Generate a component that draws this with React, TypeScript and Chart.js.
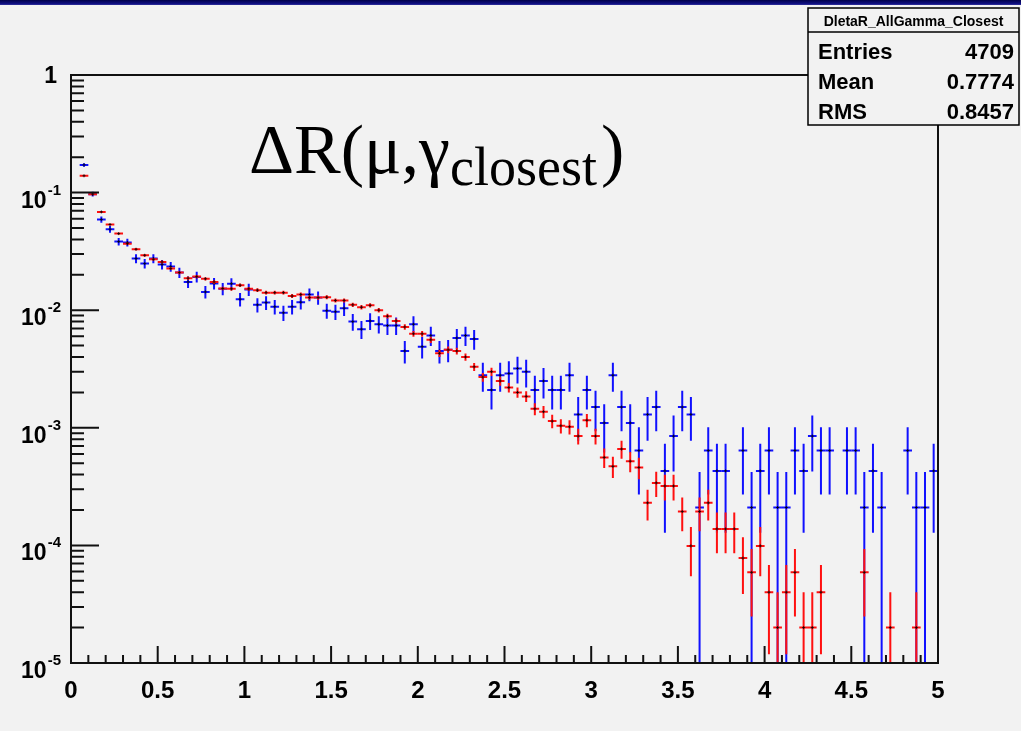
import React, { useEffect, useRef } from "react";
import { Chart, registerables } from "chart.js";

Chart.register(...registerables);

// ---------- data ----------
const X_MIN = 0;
const X_MAX = 5;
const BIN_WIDTH = 0.05;
const BIN_CENTERS = Array.from({ length: 100 }, (_, i) => +(i * BIN_WIDTH + BIN_WIDTH / 2).toFixed(3));

const X_TICKS = [0, 0.5, 1, 1.5, 2, 2.5, 3, 3.5, 4, 4.5, 5];
const Y_DECADES = [0, -1, -2, -3, -4, -5];

// normalised histogram contents (blue: all gammas, 4709 entries)
const BLUE_VALUES: (number | null)[] = [
  null, 0.172, 0.097, 0.059, 0.0488, 0.0383, 0.0376, 0.0275, 0.0249, 0.0275,
  0.0245, 0.0235, 0.0209, 0.0174, 0.0192, 0.0143, 0.0169, 0.0152, 0.0168, 0.0124,
  0.015, 0.0111, 0.0116, 0.0107, 0.0095, 0.0107, 0.0117, 0.0136, 0.0128, 0.0099,
  0.0097, 0.0104, 0.008, 0.0069, 0.0081, 0.0076, 0.0074, 0.0074, 0.0045, 0.0076,
  0.0049, 0.0061, 0.0045, 0.0046, 0.0058, 0.0061, 0.0057, 0.0028, 0.0021, 0.0028,
  0.0029, 0.0032, 0.003, 0.0021, 0.0025, 0.0021, 0.0021, 0.0028, 0.0013, 0.0021,
  0.0015, 0.0011, 0.0028, 0.0015, 0.0011, 0.00064, 0.0013, 0.0015, 0.00043, 0.00085,
  0.0015, 0.0013, 0.00021, 0.00064, 0.00043, 0.00043, null, 0.00064, 0.00021, 0.00043,
  0.00064, 0.00021, 0.00021, 0.00064, 0.00043, 0.00085, 0.00064, 0.00064, null, 0.00064,
  0.00064, 0.00021, 0.00043, 0.00021, null, null, 0.00064, 0.00021, 0.00021, 0.00043,
];

// red overlay (higher statistics sample)
const RED_VALUES: (number | null)[] = [
  null, 0.139, 0.097, 0.0685, 0.0535, 0.0448, 0.0368, 0.033, 0.0293, 0.0271,
  0.0257, 0.0226, 0.0209, 0.0187, 0.0193, 0.0185, 0.0174, 0.0153, 0.0152, 0.0163,
  0.0152, 0.0148, 0.0141, 0.0141, 0.0141, 0.0132, 0.0136, 0.0128, 0.0128, 0.0129,
  0.0121, 0.0121, 0.0111, 0.0106, 0.011, 0.01, 0.0089, 0.0081, 0.0072, 0.0063,
  0.0063, 0.0056, 0.0043, 0.0046, 0.0045, 0.004, 0.0033, 0.0027, 0.003, 0.0025,
  0.0022, 0.002, 0.00185, 0.00145, 0.00137, 0.00114, 0.00104, 0.00102, 0.00085, 0.00116,
  0.00085, 0.00056, 0.00047, 0.00066, 0.00052, 0.00046, 0.00023, 0.00034, 0.00032, 0.00032,
  0.000194, 0.000099, 0.000194, 0.00023, 0.000138, 0.000138, 0.000138, 0.000078, 0.000059, 0.000099,
  0.00004, 0.00002, 0.00004, 0.000059, 0.00002, 0.00002, 0.00004, null, null, null,
  null, 0.000059, null, null, 0.00002, null, null, 0.00002, null, null,
];

const BLUE_ENTRIES = 4709;
const RED_ENTRIES = 50500;

const TITLE_MAIN = "ΔR(μ,γ";
const TITLE_SUB = "closest";
const TITLE_END = ")";

const STATS_NAME = "DletaR_AllGamma_Closest";
const STATS_LABELS = ["Entries", "Mean", "RMS"];
const STATS_VALUES = ["4709", "0.7774", "0.8457"];

// ---------- drawing helpers ----------
const SANS = '"Liberation Sans", Arial, Helvetica, sans-serif';
const SERIF = '"Liberation Serif", "Times New Roman", serif';

const rootPlugin = {
  id: "rootStyle",
  beforeDraw(chart: any) {
    const ctx = chart.ctx;
    ctx.save();
    ctx.fillStyle = "#f2f2f2";
    ctx.fillRect(0, 0, chart.width, chart.height);
    const g = ctx.createLinearGradient(0, 0, 0, 6);
    g.addColorStop(0, "#00004a");
    g.addColorStop(0.7, "#12128a");
    g.addColorStop(1, "#8a8ac0");
    ctx.fillStyle = g;
    ctx.fillRect(0, 0, chart.width, 5);
    ctx.restore();
  },
  beforeDatasetDraw(chart: any, args: any) {
    const ds = chart.data.datasets[args.index];
    const xs = chart.scales.x;
    const ys = chart.scales.y;
    const a = chart.chartArea;
    const ctx = chart.ctx;
    ctx.save();
    ctx.beginPath();
    ctx.rect(a.left, a.top, a.right - a.left, a.bottom - a.top);
    ctx.clip();
    ctx.strokeStyle = ds.barColor;
    ctx.lineWidth = 2;
    ctx.lineCap = "butt";
    ds.data.forEach((p: any) => {
      if (p.y == null) return;
      const err = Math.sqrt(p.y / ds.entries);
      const px = xs.getPixelForValue(p.x);
      const x0 = xs.getPixelForValue(p.x - BIN_WIDTH / 2);
      const x1 = xs.getPixelForValue(p.x + BIN_WIDTH / 2);
      const py = ys.getPixelForValue(p.y);
      const lo = p.y - err;
      const pyLo = lo > 0 ? ys.getPixelForValue(lo) : a.bottom;
      const pyHi = ys.getPixelForValue(p.y + err);
      ctx.beginPath();
      ctx.moveTo(x0, py);
      ctx.lineTo(x1, py);
      ctx.moveTo(px, Math.min(pyLo, a.bottom + 2));
      ctx.lineTo(px, pyHi);
      ctx.stroke();
    });
    ctx.restore();
  },
  afterDatasetsDraw(chart: any) {
    const ctx = chart.ctx;
    const xs = chart.scales.x;
    const ys = chart.scales.y;
    const a = chart.chartArea;
    ctx.save();
    // frame
    ctx.strokeStyle = "#111";
    ctx.lineWidth = 2;
    ctx.strokeRect(a.left, a.top, a.right - a.left, a.bottom - a.top);

    // y ticks (inside)
    ctx.lineWidth = 2;
    ctx.beginPath();
    Y_DECADES.forEach((k) => {
      const y = ys.getPixelForValue(Math.pow(10, k));
      ctx.moveTo(a.left, y);
      ctx.lineTo(a.left + 28, y);
      if (k < 0) {
        for (let m = 2; m <= 9; m++) {
          const ym = ys.getPixelForValue(m * Math.pow(10, k));
          ctx.moveTo(a.left, ym);
          ctx.lineTo(a.left + 13, ym);
        }
      }
    });
    // x ticks (inside)
    for (let i = 0; i <= 50; i++) {
      const v = i / 10;
      const x = xs.getPixelForValue(v);
      const len = i % 5 === 0 ? 17 : 8;
      ctx.moveTo(x, a.bottom);
      ctx.lineTo(x, a.bottom - len);
    }
    ctx.stroke();

    // y labels
    ctx.fillStyle = "#000";
    ctx.textBaseline = "alphabetic";
    ctx.textAlign = "right";
    const right = 61;
    Y_DECADES.forEach((k) => {
      const y = ys.getPixelForValue(Math.pow(10, k));
      if (k === 0) {
        ctx.font = `bold 23px ${SANS}`;
        ctx.fillText("1", 57, y + 8);
      } else {
        const ex = `${k}`;
        ctx.font = `bold 15px ${SANS}`;
        const w = ctx.measureText(ex).width;
        ctx.fillText(ex, right, y + 2);
        ctx.font = `bold 23px ${SANS}`;
        ctx.fillText("10", right - w - 1, y + 15);
      }
    });

    // title
    ctx.textAlign = "left";
    let tx = 249;
    ctx.font = `70px ${SERIF}`;
    ctx.fillText(TITLE_MAIN, tx, 173);
    tx += ctx.measureText(TITLE_MAIN).width;
    ctx.font = `54px ${SERIF}`;
    ctx.fillText(TITLE_SUB, tx, 185);
    tx += ctx.measureText(TITLE_SUB).width + 4;
    ctx.font = `70px ${SERIF}`;
    ctx.fillText(TITLE_END, tx, 173);

    // stats box
    const bx = 808, by = 8, bw = 211, bh = 117;
    ctx.fillStyle = "#f2f2f2";
    ctx.fillRect(bx, by, bw, bh);
    ctx.strokeStyle = "#000";
    ctx.lineWidth = 1.5;
    ctx.strokeRect(bx, by, bw, bh);
    ctx.beginPath();
    ctx.moveTo(bx, by + 24);
    ctx.lineTo(bx + bw, by + 24);
    ctx.stroke();
    ctx.fillStyle = "#000";
    ctx.textAlign = "center";
    ctx.font = `bold 14px ${SANS}`;
    ctx.fillText(STATS_NAME, bx + bw / 2, by + 18, bw - 10);
    ctx.font = `bold 22px ${SANS}`;
    STATS_LABELS.forEach((lab, i) => {
      const yy = by + 51 + i * 30;
      ctx.textAlign = "left";
      ctx.fillText(lab, bx + 10, yy);
      ctx.textAlign = "right";
      ctx.fillText(STATS_VALUES[i], bx + bw - 5, yy);
    });
    ctx.restore();
  },
};

export default function App() {
  const ref = useRef<HTMLCanvasElement>(null);
  useEffect(() => {
    const canvas = ref.current!;
    const pointStyle = {
      pointStyle: "cross" as const,
      pointRadius: 1.5,
      pointBorderColor: "rgba(0,0,0,0.8)",
      pointBorderWidth: 1,
      pointBackgroundColor: "#000",
      showLine: false,
    };
    const chart = new Chart(canvas, {
      type: "scatter",
      data: {
        datasets: [
          {
            label: "blue",
            data: BIN_CENTERS.map((x, i) => ({ x, y: BLUE_VALUES[i] })),
            order: 2,
            barColor: "#1010ff",
            entries: BLUE_ENTRIES,
            ...pointStyle,
          } as any,
          {
            label: "red",
            data: BIN_CENTERS.map((x, i) => ({ x, y: RED_VALUES[i] })),
            order: 1,
            barColor: "#ff1010",
            entries: RED_ENTRIES,
            ...pointStyle,
          } as any,
        ],
      },
      options: {
        responsive: false,
        animation: false,
        devicePixelRatio: 1,
        layout: { padding: { left: 0, top: 75, right: 83, bottom: 0 } },
        plugins: { legend: { display: false }, tooltip: { enabled: false } },
        scales: {
          x: {
            type: "linear",
            min: X_MIN,
            max: X_MAX,
            afterFit: (s: any) => {
              s.height = 68;
            },
            afterBuildTicks: (s: any) => {
              s.ticks = X_TICKS.map((v) => ({ value: v }));
            },
            grid: { display: false },
            border: { display: false },
            ticks: {
              autoSkip: false,
              maxRotation: 0,
              padding: 6,
              color: "#000",
              font: { family: SANS, size: 24, weight: "bold" },
              callback: (v: any) => String(v),
            },
          },
          y: {
            type: "logarithmic",
            min: 1e-5,
            max: 1,
            afterFit: (s: any) => {
              s.width = 71;
            },
            grid: { display: false },
            border: { display: false },
            ticks: { display: false },
          },
        },
      } as any,
      plugins: [rootPlugin],
    });
    return () => chart.destroy();
  }, []);
  return (
    <div style={{ position: "fixed", left: 0, top: 0, width: 1021, height: 731, background: "#f2f2f2" }}>
      <canvas ref={ref} width={1021} height={731} style={{ display: "block" }} />
    </div>
  );
}
